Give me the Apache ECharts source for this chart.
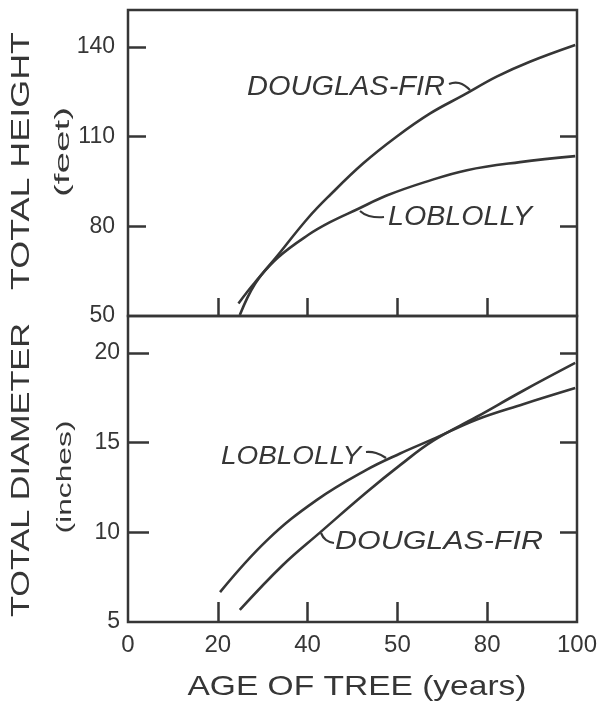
<!DOCTYPE html>
<html><head><meta charset="utf-8">
<script src="https://cdn.jsdelivr.net/npm/echarts@6/dist/echarts.min.js"></script>
<style>html,body{margin:0;padding:0;background:#fff}#c{width:603px;height:705px}</style>
</head><body><div id="c"></div>
<script>
// ---- data ----
const heightFirAge = [24.9, 28.3, 33.4, 40.1, 45.0, 52.4, 59.8, 67.3, 74.7, 82.1, 89.5, 99.6];
const heightFir    = [50.3, 60.8, 70.4, 82.8, 90.5, 101.1, 110.0, 117.8, 123.9, 130.1, 135.1, 140.7];
const heightLobAge = [24.6, 28.3, 33.4, 40.1, 45.0, 51.2, 57.6, 66.1, 75.5, 87.3, 99.6];
const heightLob    = [54.2, 61.3, 69.6, 77.1, 81.4, 85.8, 90.3, 94.8, 98.8, 101.5, 103.5];
const diamLobAge = [20.5, 31.0, 42.0, 53.2, 60.6, 67.9, 77.7, 88.0, 99.6];
const diamLob    = [6.67, 9.57, 11.8, 13.5, 14.4, 15.2, 16.3, 17.15, 18.05];
const diamFirAge = [24.9, 34.5, 42.8, 53.2, 60.6, 67.9, 77.7, 88.0, 99.6];
const diamFir    = [5.67, 8.18, 10.0, 12.25, 13.75, 15.1, 16.45, 17.9, 19.45];
const xTickValues = [0, 20, 40, 60, 80, 100];
const xTickLabels = ['0', '20', '40', '50', '80', '100'];
const heightTicks = [50, 80, 110, 140];
const diamTicks = [5, 10, 15, 20];

const INK = '#363636';
const FONT = '"Liberation Sans", Arial, sans-serif';
const zip = (a, b) => a.map((v, i) => [v, b[i]]);

const mctx = document.createElement('canvas').getContext('2d');
function fit(text, font, len) { mctx.font = font; return len / mctx.measureText(text).width; }

function txt(text, x, y, size, len, opts) {
  opts = opts || {};
  const font = (opts.italic ? 'italic ' : '') + size + 'px ' + (opts.family || FONT);
  const align = opts.align || 'center';
  return {
    type: 'text', x: x, y: y, rotation: opts.rot || 0, scaleX: fit(text, font, len),
    style: { text: text, font: font, fill: INK, align: align, textAlign: align,
             verticalAlign: 'middle', textVerticalAlign: 'middle' }
  };
}
function leader(points) {
  return { type: 'polyline', shape: { points: points, smooth: 0.5 },
           style: { stroke: INK, lineWidth: 2.2, fill: null } };
}

const tickStyle = { color: INK, width: 2.5 };
const labelStyle = (m, size) => ({ margin: m, fontSize: size, fontFamily: FONT, color: INK });

const chart = echarts.init(document.getElementById('c'), null, { renderer: 'canvas' });
chart.setOption({
  animation: false,
  backgroundColor: '#fff',
  grid: [
    { left: 128, top: 10, width: 449, height: 306, show: true, borderColor: INK, borderWidth: 2.5 },
    { left: 128, top: 316, width: 449, height: 306, show: true, borderColor: INK, borderWidth: 2.5 }
  ],
  xAxis: [
    { gridIndex: 0, type: 'value', min: 0, max: 100, position: 'bottom',
      axisLine: { show: false }, splitLine: { show: false }, axisLabel: { show: false },
      axisTick: { show: true, inside: true, length: 18, lineStyle: tickStyle, customValues: [20, 40, 60, 80] } },
    { gridIndex: 1, type: 'value', min: 0, max: 100, position: 'bottom',
      axisLine: { show: false }, splitLine: { show: false },
      axisTick: { show: true, inside: true, length: 20, lineStyle: tickStyle, customValues: [20, 40, 60, 80] },
      axisLabel: Object.assign(labelStyle(11, 24), { customValues: xTickValues,
        formatter: v => xTickLabels[xTickValues.indexOf(v)] }) }
  ],
  yAxis: [
    { gridIndex: 0, type: 'value', min: 50, max: 152.4, position: 'left',
      axisLine: { show: false }, splitLine: { show: false },
      axisTick: { show: true, inside: true, length: 18, lineStyle: tickStyle, customValues: [80, 110, 140] },
      axisLabel: Object.assign(labelStyle(13, 23), { customValues: heightTicks }) },
    { gridIndex: 0, type: 'value', min: 50, max: 152.4, position: 'right',
      axisLine: { show: false }, splitLine: { show: false }, axisLabel: { show: false },
      axisTick: { show: true, inside: true, length: 17, lineStyle: tickStyle, customValues: [80, 110] } },
    { gridIndex: 1, type: 'value', min: 5, max: 22.07, position: 'left',
      axisLine: { show: false }, splitLine: { show: false },
      axisTick: { show: true, inside: true, length: 21, lineStyle: tickStyle, customValues: [10, 15, 20] },
      axisLabel: Object.assign(labelStyle(8, 23), { customValues: diamTicks }) },
    { gridIndex: 1, type: 'value', min: 5, max: 22.07, position: 'right',
      axisLine: { show: false }, splitLine: { show: false }, axisLabel: { show: false },
      axisTick: { show: true, inside: true, length: 17, lineStyle: tickStyle, customValues: [10, 15, 20] } }
  ],
  series: [
    { name: 'Douglas-fir height', type: 'line', xAxisIndex: 0, yAxisIndex: 0, data: zip(heightFirAge, heightFir) },
    { name: 'Loblolly height', type: 'line', xAxisIndex: 0, yAxisIndex: 0, data: zip(heightLobAge, heightLob) },
    { name: 'Loblolly diameter', type: 'line', xAxisIndex: 1, yAxisIndex: 2, data: zip(diamLobAge, diamLob) },
    { name: 'Douglas-fir diameter', type: 'line', xAxisIndex: 1, yAxisIndex: 2, data: zip(diamFirAge, diamFir) }
  ].map(s => Object.assign(s, { showSymbol: false, smooth: 0.4,
      lineStyle: { color: INK, width: 2.6 }, silent: true })),
  graphic: [
    txt('TOTAL HEIGHT', 22, 161, 26, 258, { rot: Math.PI / 2 }),
    txt('(feet)', 63, 152, 21, 90, { rot: Math.PI / 2 }),
    txt('TOTAL DIAMETER', 22, 470, 26, 294, { rot: Math.PI / 2 }),
    txt('(inches)', 65, 477, 21, 113, { rot: Math.PI / 2 }),
    txt('AGE OF TREE (years)', 357, 687, 28, 339),
    txt('DOUGLAS-FIR', 247, 87, 27, 198, { italic: true, align: 'left' }),
    txt('LOBLOLLY', 388, 217, 27, 144, { italic: true, align: 'left' }),
    txt('LOBLOLLY', 221, 457, 25, 140, { italic: true, align: 'left' }),
    txt('DOUGLAS-FIR', 335, 542, 25, 208, { italic: true, align: 'left' }),
    leader([[449, 84], [459, 83], [470, 90]]),
    leader([[360, 211], [369, 216], [384, 217]]),
    leader([[366, 452], [376, 453], [386, 458]]),
    leader([[321, 533], [326, 540], [334, 543]])
  ]
});
</script></body></html>
